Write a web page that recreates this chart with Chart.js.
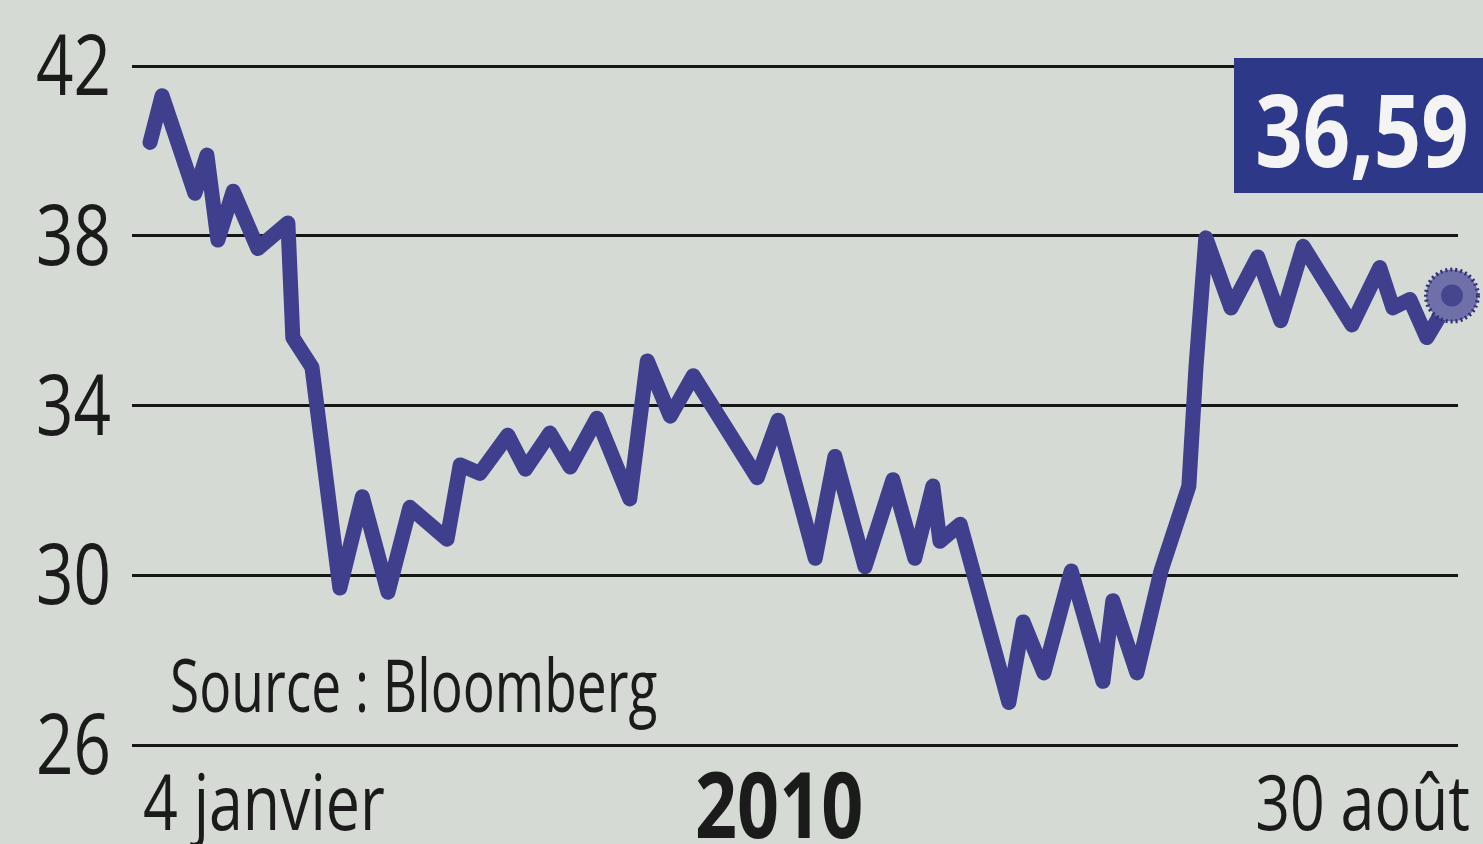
<!DOCTYPE html>
<html>
<head>
<meta charset="utf-8">
<script src="https://cdn.jsdelivr.net/npm/chart.js@4.4.1/dist/chart.umd.min.js"></script>
<style>
  html, body { margin: 0; padding: 0; background: #d6dad5; overflow: hidden; }
  #wrap { width: 1483px; height: 844px; position: relative; }
</style>
</head>
<body>
<div id="wrap"><canvas id="chart"></canvas></div>
<script>
// days since 4 janvier 2010
const days = [0, 2.2, 8.2, 10.4, 12.4, 15.2, 19.7, 25.2, 26.1, 29.6, 34.7, 38.8, 43.5, 47.5,
  54.3, 56.7, 60.3, 65.4, 68.6, 73.1, 76.8, 81.7, 87.7, 90.9, 95.1, 99.3, 111.0, 114.8,
  121.6, 125.2, 130.7, 135.8, 139.8, 143.1, 144.4, 148.1, 157.0, 159.6, 163.4, 168.4,
  174.2, 176.0, 180.4, 184.8, 189.9, 191.2, 193.0, 197.6, 202.5, 206.7, 210.8, 219.7,
  224.8, 227.2, 230.3, 233.4, 238];
const prices = [40.2, 41.3, 39.0, 39.9, 37.9, 39.05, 37.7, 38.3, 35.6, 34.9, 29.7, 31.85, 29.6, 31.6,
  30.85, 32.6, 32.4, 33.3, 32.5, 33.35, 32.55, 33.7, 31.8, 35.05, 33.75, 34.7, 32.3, 33.65,
  30.4, 32.8, 30.2, 32.25, 30.4, 32.1, 30.8, 31.2, 27.0, 28.9, 27.7, 30.1,
  27.5, 29.4, 27.7, 30.1, 32.1, 34.9, 37.95, 36.3, 37.5, 36.0, 37.75, 35.9,
  37.25, 36.3, 36.5, 35.6, 36.59];
const yTicks = [26, 30, 34, 38, 42];
const xTickDays = [0, 115, 238];
const xTickLabels = ['4 janvier', '2010', '30 août'];
const sourceText = 'Source : Bloomberg';

const fam = "'Open Sans', 'DejaVu Sans Condensed', sans-serif";
const ink = '#1b1b1b';
const lineColor = '#403f8e';

// narrow type: draw text squeezed horizontally
function squeezed(c, text, x, y, size, bold, sx, align) {
  c.save();
  c.font = `${bold ? 'bold ' : ''}${size}px ${fam}`;
  c.textBaseline = 'alphabetic';
  c.textAlign = 'left';
  const w = c.measureText(text).width * sx;
  let left = x;
  if (align === 'right') left = x - w;
  else if (align === 'center') left = x - w / 2;
  c.translate(left, y);
  c.scale(sx, 1);
  c.fillText(text, 0, 0);
  c.restore();
}

const paperBg = {
  id: 'paperBg',
  beforeDraw(chart) {
    const c = chart.ctx;
    c.save();
    c.fillStyle = '#d6dad5';
    c.fillRect(0, 0, chart.width, chart.height);
    c.restore();
  }
};

const axisText = {
  id: 'axisText',
  beforeDatasetsDraw(chart) {
    const c = chart.ctx;
    const ys = chart.scales.y, xs = chart.scales.x;
    c.fillStyle = ink;
    ys.ticks.forEach(t => {
      squeezed(c, String(t.value), 111, ys.getPixelForValue(t.value) + 29, 84, false, 0.78, 'right');
    });
    xs.ticks.forEach((t, i) => {
      const px = xs.getPixelForValue(t.value);
      if (i === 0) squeezed(c, xTickLabels[i], px - 7, 830, 77, false, 0.79, 'left');
      else if (i === xs.ticks.length - 1) squeezed(c, xTickLabels[i], px + 18, 830, 77, false, 0.79, 'right');
      else squeezed(c, xTickLabels[i], px, 838, 92, true, 0.8, 'center');
    });
    squeezed(c, sourceText, 170, 712, 74, false, 0.72, 'left');
  }
};

const lastValueBox = {
  id: 'lastValueBox',
  afterDatasetsDraw(chart) {
    const c = chart.ctx;
    const meta = chart.getDatasetMeta(0);
    const pt = meta.data[meta.data.length - 1];
    c.save();
    // end marker
    c.beginPath();
    c.arc(pt.x, pt.y, 26, 0, Math.PI * 2);
    c.fillStyle = '#6f70aa';
    c.fill();
    c.setLineDash([2, 3]);
    c.lineWidth = 4;
    c.strokeStyle = '#2f3070';
    c.stroke();
    c.setLineDash([]);
    c.beginPath();
    c.arc(pt.x, pt.y, 11, 0, Math.PI * 2);
    c.fillStyle = '#45468e';
    c.fill();
    // value box
    c.fillStyle = '#2d3889';
    c.fillRect(1234, 58, chart.width - 1234, 135);
    c.restore();
    c.fillStyle = '#f4f4f4';
    const v = prices[prices.length - 1].toFixed(2).replace('.', ',');
    squeezed(c, v, 1362, 167, 100, true, 0.83, 'center');
  }
};

new Chart(document.getElementById('chart'), {
  type: 'line',
  data: {
    datasets: [{
      data: days.map((d, i) => ({x: d, y: prices[i]})),
      borderColor: lineColor,
      borderWidth: 15,
      borderJoinStyle: 'round',
      borderCapStyle: 'round',
      tension: 0,
      pointRadius: 0,
      fill: false
    }]
  },
  options: {
    responsive: true,
    maintainAspectRatio: false,
    animation: false,
    layout: {padding: {top: 66, right: 25, left: 0, bottom: 0}},
    plugins: {legend: {display: false}, tooltip: {enabled: false}},
    scales: {
      x: {
        type: 'linear',
        min: -3.3,
        max: 239.1,
        afterBuildTicks: (s) => { s.ticks = xTickDays.map(v => ({value: v})); },
        afterFit: (s) => { s.height = 99; },
        grid: {display: false, drawTicks: false},
        border: {display: false},
        ticks: {display: false}
      },
      y: {
        min: 26,
        max: 42,
        afterBuildTicks: (s) => { s.ticks = yTicks.map(v => ({value: v})); },
        afterFit: (s) => { s.width = 132; },
        grid: {color: '#161616', lineWidth: 3, drawTicks: false},
        border: {display: false},
        ticks: {display: false}
      }
    }
  },
  plugins: [paperBg, axisText, lastValueBox]
});
</script>
</body>
</html>
